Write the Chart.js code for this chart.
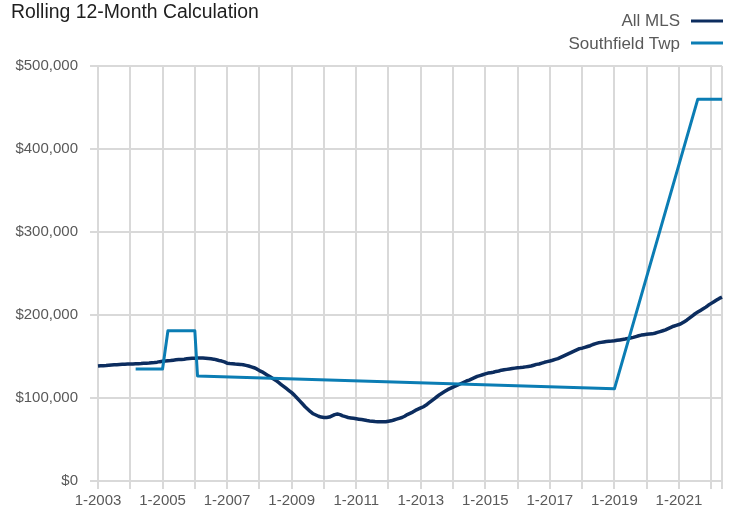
<!DOCTYPE html>
<html><head><meta charset="utf-8">
<script src="https://cdn.jsdelivr.net/npm/chart.js@4.4.1/dist/chart.umd.min.js"></script>
<style>html,body{margin:0;padding:0;background:#fff;}#wrap{position:relative;width:733px;height:515px;}</style>
</head><body><div id="wrap"><canvas id="c" width="733" height="515"></canvas></div>
<script>
const titleText = 'Rolling 12-Month Calculation';
const seriesNames = ['All MLS', 'Southfield Twp'];
const seriesColors = ['#0c2d5f', '#0b7db4'];
const firstYear = 2003, lastYear = 2022, lastMonth = 5;
const xTickLabels = ['1-2003','1-2005','1-2007','1-2009','1-2011','1-2013','1-2015','1-2017','1-2019','1-2021'];
const yTickValues = [0, 100000, 200000, 300000, 400000, 500000];

// All MLS, monthly 1-2003 .. 5-2022
const allMls = [
 138500,138800,139000,139200,139500,139800,140000,140200,140400,140600,140800,140900,
 141000,141000,141200,141300,141500,141800,142000,142200,142500,142800,143200,143800,
 144300,144600,145000,145200,145600,146000,146300,146500,146800,147200,147500,147800,
 148000,148200,148300,148200,148000,147600,147200,146800,146000,145200,144500,143500,
 142000,141600,141300,141000,140800,140500,140000,139300,138500,137500,136500,135000,
 133000,131500,129500,127500,125500,123500,121500,119000,116500,114000,111500,109000,
 106500,103500,100000,96500,93000,89500,86500,83500,81000,79500,78000,77000,
 76500,76500,77000,78500,80000,80700,80000,78500,77500,76500,76000,75500,
 75000,74500,74000,73500,72800,72300,72000,71700,71500,71500,71500,71500,
 72000,72500,73500,74500,75500,76500,78000,80000,81500,83000,85000,86500,
 88000,89500,91500,94000,96500,99000,101500,104000,106000,108000,110000,111500,
 113000,114500,116000,117500,119000,120500,121500,123000,124500,126000,127000,128000,
 129000,130000,130500,131000,132000,132500,133500,134000,134500,135000,135500,136000,
 136500,136700,137000,137500,138000,138500,139500,140500,141000,142000,143000,143800,
 144600,145500,146500,147500,149000,150500,152000,153500,155000,156500,158000,159500,
 160000,161000,162000,163000,164500,165500,166500,167000,167500,168000,168300,168600,
 169000,169500,170000,170500,171000,171800,172300,173000,174000,175000,175800,176300,
 176700,177000,177300,178000,179000,180000,181000,182000,183500,185000,186500,187500,
 188500,190000,192000,194000,196500,199000,201500,203500,205500,207500,209500,212000,
 214000,216000,218000,220000,221500
];

// Southfield Twp: reported months only (line spans the gaps)
const southfieldMonths = ['3-2004','1-2005','2-2005','3-2005','1-2006','2-2006','1-2019','8-2021','5-2022'];
const southfieldValues = [135000,135000,158000,181000,181000,126500,111000,460000,460000];

const labels = [];
for (let y = firstYear; y <= lastYear; y++) {
  for (let m = 1; m <= 12; m++) {
    if (y === lastYear && m > lastMonth) break;
    labels.push(m + '-' + y);
  }
}
const southfield = labels.map(l => {
  const k = southfieldMonths.indexOf(l);
  return k >= 0 ? southfieldValues[k] : null;
});

const FONT = "'Liberation Sans', Arial, Helvetica, sans-serif";
const GRID = '#d9d9d9';
const TICKC = '#595959';

const headerPlugin = {
  id: 'header',
  afterDraw(chart) {
    const ctx = chart.ctx;
    ctx.save();
    ctx.fillStyle = '#1e1e1e';
    ctx.font = '19.4px ' + FONT;
    ctx.textAlign = 'left';
    ctx.textBaseline = 'alphabetic';
    ctx.fillText(titleText, 11, 18);
    ctx.font = '17px ' + FONT;
    ctx.textAlign = 'right';
    const rows = [{y: 26, ly: 21}, {y: 48.5, ly: 43}];
    seriesNames.forEach((n, i) => {
      ctx.fillStyle = TICKC;
      ctx.fillText(n, 680, rows[i].y);
      ctx.strokeStyle = seriesColors[i];
      ctx.lineWidth = 3;
      ctx.beginPath();
      ctx.moveTo(691, rows[i].ly);
      ctx.lineTo(723, rows[i].ly);
      ctx.stroke();
    });
    ctx.restore();
  }
};

function isGridIndex(i) {
  if (i === labels.length - 1) return true;
  return labels[i] && labels[i].startsWith('1-');
}

new Chart(document.getElementById('c'), {
  type: 'line',
  data: {
    labels: labels,
    datasets: [
      { label: seriesNames[0], data: allMls, borderColor: seriesColors[0], borderWidth: 3.5, pointRadius: 0, order: 2, fill: false },
      { label: seriesNames[1], data: southfield, borderColor: seriesColors[1], borderWidth: 3, pointRadius: 0, spanGaps: true, order: 1, fill: false }
    ]
  },
  options: {
    responsive: false,
    animation: false,
    devicePixelRatio: 1,
    layout: { padding: { top: 66, right: 11, left: 0, bottom: 0 } },
    plugins: { legend: { display: false }, title: { display: false }, tooltip: { enabled: false } },
    elements: { line: { tension: 0, borderJoinStyle: 'round' }, point: { radius: 0 } },
    scales: {
      x: {
        type: 'category',
        offset: false,
        border: { display: false },
        grid: {
          color: c => isGridIndex(c.index) ? GRID : 'rgba(0,0,0,0)',
          lineWidth: 2,
          drawTicks: true,
          tickLength: 8
        },
        ticks: {
          autoSkip: false, maxRotation: 0, minRotation: 0, padding: 3,
          color: TICKC, font: { family: FONT, size: 15 },
          callback: (v, i) => xTickLabels.includes(labels[i]) ? labels[i] : ''
        },
        afterFit: s => { s.height = 34; }
      },
      y: {
        min: 0, max: 500000,
        border: { display: false },
        grid: { color: GRID, lineWidth: 2, tickLength: 8 },
        afterBuildTicks: s => { s.ticks = yTickValues.map(v => ({ value: v })); },
        ticks: {
          padding: 12, color: TICKC, font: { family: FONT, size: 15 },
          callback: v => '$' + Number(v).toLocaleString('en-US')
        },
        afterFit: s => { s.width = 98; }
      }
    }
  },
  plugins: [headerPlugin]
});
</script>
</body></html>
